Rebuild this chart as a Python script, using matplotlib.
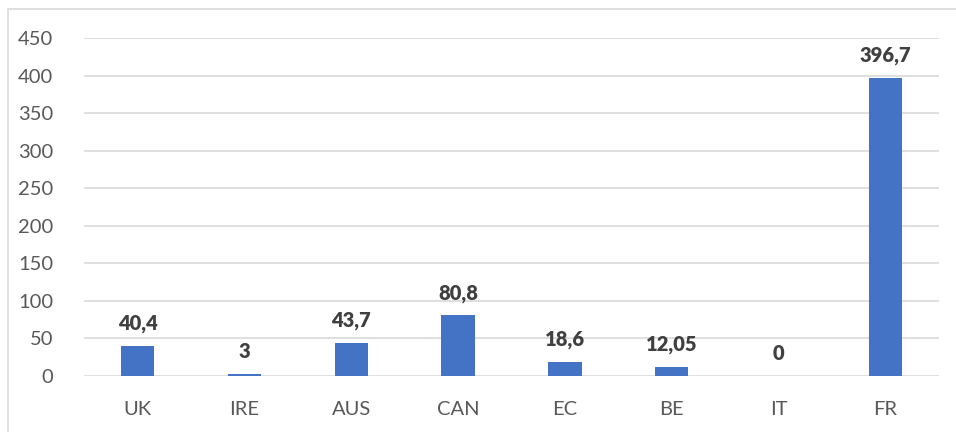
import matplotlib.pyplot as plt
from matplotlib.patches import Rectangle

countries = ["UK", "IRE", "AUS", "CAN", "EC", "BE", "IT", "FR"]
values = [40.4, 3, 43.7, 80.8, 18.6, 12.05, 0, 396.7]
value_labels = ["40,4", "3", "43,7", "80,8", "18,6", "12,05", "0", "396,7"]
y_ticks = [0, 50, 100, 150, 200, 250, 300, 350, 400, 450]

plt.rcParams['font.family'] = ['Lato', 'DejaVu Sans']

W, H = 956, 432
fig = plt.figure(figsize=(W / 100, H / 100), dpi=100)
ax = fig.add_axes([84 / W, 1 - 376 / H, (939 - 84) / W, (376 - 38) / H])

# chart frame (Excel-style light border, cut off at right and bottom)
fig.patches.append(Rectangle((8 / W, -0.1), 1.0, (H - 9) / H + 0.1,
                             transform=fig.transFigure, fill=False,
                             edgecolor='#d9d9d9', linewidth=1.2))

x = range(len(countries))
ax.bar(x, values, width=0.31, color='#4472c4', zorder=3)

for xi, v, lab in zip(x, values, value_labels):
    ax.annotate(lab, (xi, v), xytext=(0, 16), textcoords='offset points',
                ha='center', va='center', fontsize=14.5, fontweight='heavy',
                color='#404040')

ax.set_xlim(-0.5, len(countries) - 0.5)
ax.set_ylim(0, 450)
ax.set_yticks(y_ticks)
ax.set_xticks(list(x))
ax.set_xticklabels(countries)
ax.yaxis.grid(True, color='#d9d9d9', linewidth=1.2, zorder=0)
for s in ax.spines.values():
    s.set_visible(False)
ax.tick_params(axis='both', length=0, labelsize=14.5, labelcolor='#595959')
ax.tick_params(axis='y', pad=22)
ax.tick_params(axis='x', pad=18)

fig.savefig('out.png', dpi=100)
